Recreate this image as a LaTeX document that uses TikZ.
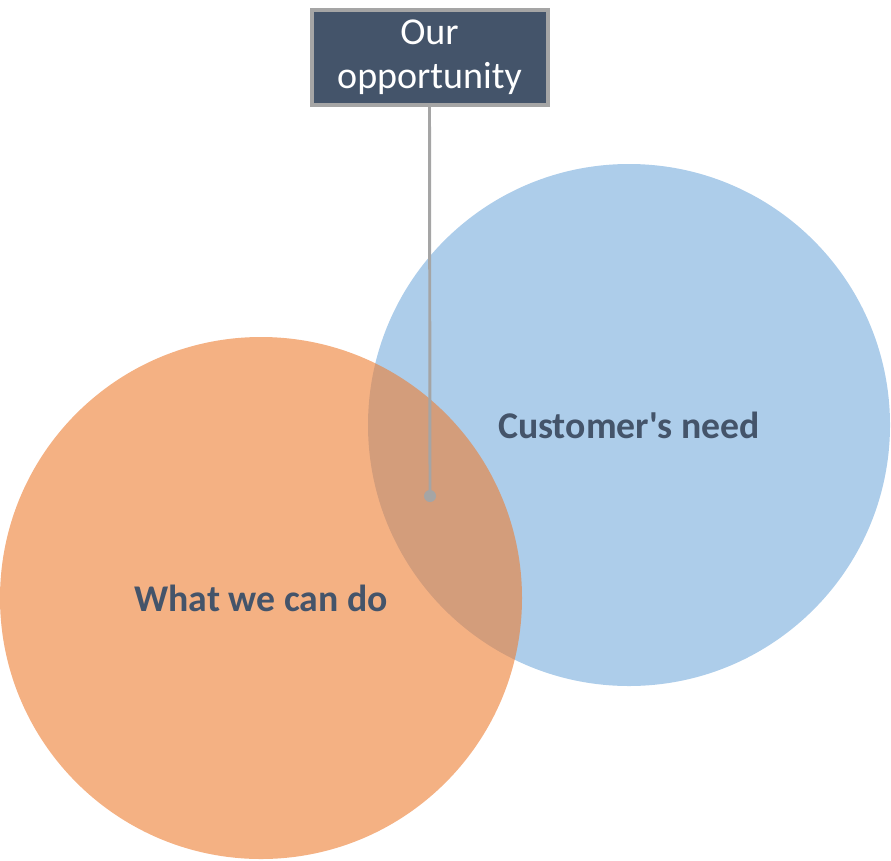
\documentclass[tikz,border=0pt]{standalone}
\usepackage{fontspec}
\setmainfont{Carlito}
\usetikzlibrary{positioning,calc}

\definecolor{slate}{HTML}{44546A}
\definecolor{boxgray}{HTML}{A5A5A5}
\definecolor{needblue}{HTML}{5B9BD5}
\definecolor{doorange}{HTML}{ED7D31}

\tikzset{
  set/.style={circle, minimum size=522, inner sep=0pt, outer sep=0pt},
  setlabel/.style={text=slate, font=\bfseries\fontsize{28.3}{34}\selectfont}
}

\begin{document}
\begin{tikzpicture}[x=0.75pt, y=-0.75pt]

\useasboundingbox (0,0) rectangle (891,860);

\node[
    set,
    fill=needblue,
    fill opacity=0.5,
    minimum size=391.5pt
  ] (NEED) at (629, 425) {};

\node[
    set,
    fill=doorange,
    fill opacity=0.6,
    minimum size=391.5pt
  ] (CAN) at (261, 598) {};

\node[setlabel] (NEEDL) at (NEED.center) {Customer\textquotesingle s need};
\node[setlabel] (CANL) at (CAN.center) {What we can do};

\node[
    draw=boxgray,
    line width=3pt,
    fill=slate,
    text=white,
    minimum width=177pt,
    minimum height=71pt,
    align=center,
    font=\fontsize{28.5}{33}\selectfont
  ] (OPP) at (429.5, 57.5) {Our\\opportunity};

\coordinate (SPOT) at (430, 496);
\draw[boxgray, line width=2.2pt] (OPP.south) -- (SPOT);
\fill[boxgray] (SPOT) circle (4.5pt);

\end{tikzpicture}
\end{document}
